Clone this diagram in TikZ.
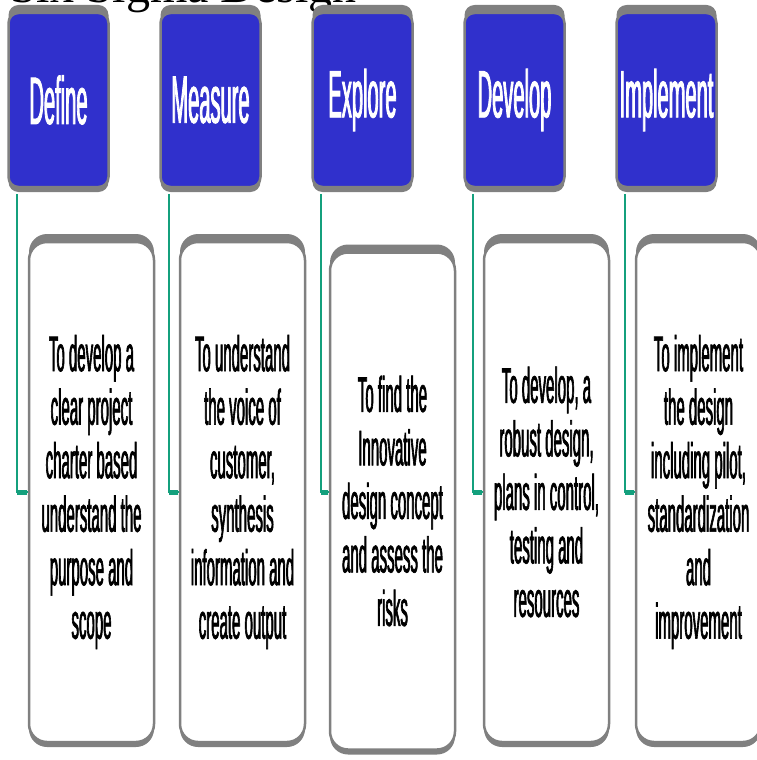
\documentclass[tikz,border=0pt]{standalone}
\usepackage{fontspec}
\setmainfont{Liberation Serif}
\newfontfamily\narrowfont[FakeStretch=0.3,FakeBold=1.2]{Liberation Sans}
\definecolor{stepblue}{RGB}{48,48,204}
\definecolor{rimgray}{RGB}{128,128,128}
\definecolor{linkgreen}{RGB}{20,160,125}

\begin{document}
\begin{tikzpicture}[x=1pt,y=-1pt]
    \useasboundingbox (0,0) rectangle (756,760);
    \tikzstyle{every node}=[inner sep=0pt];
    \tikzstyle{rim}=[draw=rimgray, line width=2.5pt,
      preaction={fill=rimgray, transform canvas={yshift=8pt}},
      preaction={fill=rimgray, transform canvas={yshift=-5pt}}];
    \tikzstyle{head}=[rim, fill=stepblue, text=white, rounded corners=10pt,
      minimum width=100pt, minimum height=174pt,
      font=\narrowfont\fontsize{67}{67}\selectfont];
    \tikzstyle{body}=[rim, fill=white, rounded corners=18pt,
      minimum width=125pt, minimum height=500pt, align=center,
      font=\narrowfont\fontsize{50}{53.5}\selectfont];
    \tikzstyle{link}=[draw=linkgreen, line width=2pt];
    \tikzstyle{stub}=[draw=linkgreen, line width=5pt, shorten >=1.25pt];

    % title, cut off at the top
    \node[anchor=base west, font=\fontsize{48}{48}\selectfont] (title) at (10,3) {Six Sigma Design};

    % the five steps
    \node[head] (define-h) at (58.5,100) {Define};
    \node[head] (measure-h) at (210.5,100) {Measure};
    \node[head] (explore-h) at (362.5,100) {Explore};
    \node[head] (develop-h) at (514.5,100) {Develop};
    \node[head] (implement-h) at (666.5,100) {Implement};

    % what each step is for
    \node[body] (define-b) at (91.5,492) {To develop a\\clear project\\charter based\\understand the\\purpose and\\scope};
    \node[body] (measure-b) at (242.5,492) {To understand\\the voice of\\customer,\\synthesis\\information and\\create output};
    \node[body, minimum height=497pt] (explore-b) at (392.5,501) {To find the\\Innovative\\design concept\\and assess the\\risks};
    \node[body] (develop-b) at (546.5,492) {To develop, a\\robust design,\\plans in control,\\testing and\\resources};
    \node[body] (implement-b) at (698.5,492) {To implement\\the design\\including pilot,\\standardization\\and\\improvement};

    \foreach \n/\s in {define/0,measure/0,explore/9,develop/0,implement/0}{
      \draw[link] ([xshift=10pt,yshift=-6pt]\n-h.south west) |- node[coordinate,pos=0.5] (\n-c) {} ([yshift=\s pt]\n-b.west);
      \draw[stub] (\n-c) -- ([yshift=\s pt]\n-b.west);
    }
\end{tikzpicture}
\end{document}
